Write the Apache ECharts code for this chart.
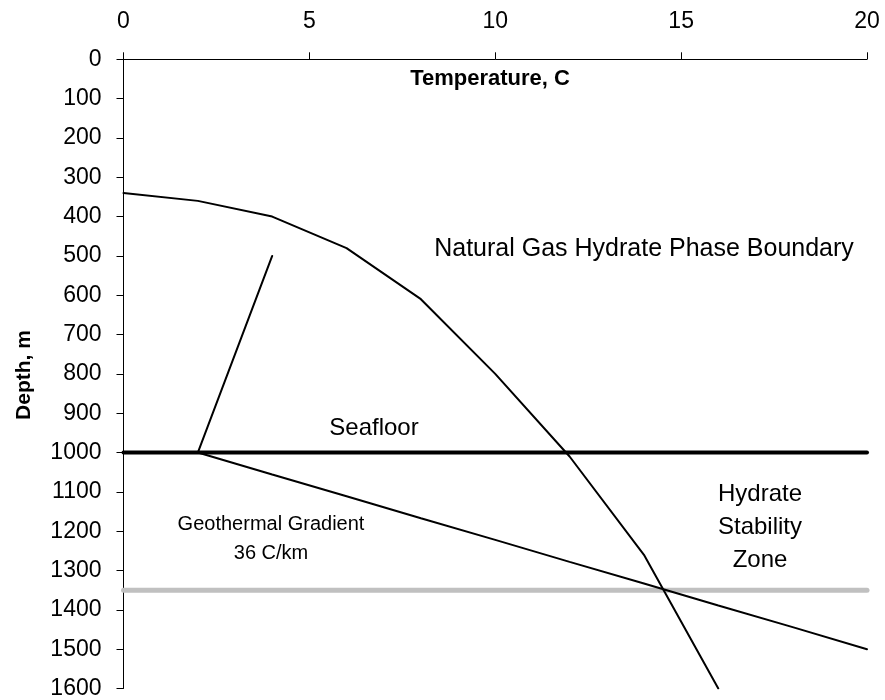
<!DOCTYPE html>
<html>
<head>
<meta charset="utf-8">
<script src="https://cdn.jsdelivr.net/npm/echarts@6/dist/echarts.min.js"></script>
<style>
  html, body { margin: 0; padding: 0; background: #fff; }
  #chart { width: 885px; height: 700px; }
</style>
</head>
<body>
<div id="chart"></div>
<script>
(function() {
  var font = '"Liberation Sans", Arial, sans-serif';

  // --- data ---
  var phaseTemp = [0, 2, 4, 6, 8, 10, 12, 14, 16];
  var phaseDepth = [340, 360, 400, 480, 610, 800, 1010, 1260, 1600];

  var gradTemp = [2, 4, 6, 8, 10, 12, 14, 16, 18, 20];
  var gradDepth = [1000, 1056, 1111, 1167, 1222, 1278, 1333, 1389, 1444, 1500];

  var waterTemp = [4, 2];
  var waterDepth = [500, 1000];

  var seafloorTemp = [0, 20];
  var seafloorDepth = [1000, 1000];

  var baseTemp = [0, 20];
  var baseDepth = [1350, 1350];

  function pairs(xs, ys) {
    return xs.map(function(x, i) { return [x, ys[i]]; });
  }

  function lineSeries(name, xs, ys, color, width) {
    return {
      name: name,
      type: 'line',
      data: pairs(xs, ys),
      symbol: 'none',
      silent: true,
      lineStyle: { color: color, width: width, cap: 'round' }
    };
  }

  var chart = echarts.init(document.getElementById('chart'), null, { renderer: 'canvas' });
  chart.setOption({
    animation: false,
    backgroundColor: '#fff',
    textStyle: { fontFamily: font },
    grid: { left: 123.5, right: 18, top: 59.3, bottom: 11 },
    xAxis: {
      type: 'value',
      position: 'top',
      min: 0,
      max: 20,
      interval: 5,
      axisLine: { onZero: false, lineStyle: { color: '#000', width: 1 } },
      axisTick: { show: true, length: 7, lineStyle: { color: '#000' } },
      splitLine: { show: false },
      axisLabel: { color: '#000', fontSize: 23, fontFamily: font, margin: 26 }
    },
    yAxis: {
      type: 'value',
      inverse: true,
      min: 0,
      max: 1600,
      interval: 100,
      axisLine: { show: true, onZero: false, lineStyle: { color: '#000', width: 1 } },
      axisTick: { show: true, length: 7, lineStyle: { color: '#000' } },
      splitLine: { show: false },
      axisLabel: {
        color: '#000', fontSize: 23, fontFamily: font, margin: 22,
        formatter: function(v) { return String(v); }
      }
    },
    graphic: [
      { type: 'text', x: 490, y: 79, style: { text: 'Temperature, C', font: 'bold 22px ' + font, fill: '#000', align: 'center', verticalAlign: 'middle' } },
      { type: 'text', x: 24, y: 375, rotation: Math.PI / 2, style: { text: 'Depth, m', font: 'bold 21px ' + font, fill: '#000', align: 'center', verticalAlign: 'middle' } },
      { type: 'text', x: 644, y: 249, style: { text: 'Natural Gas Hydrate Phase Boundary', font: '25px ' + font, fill: '#000', align: 'center', verticalAlign: 'middle' } },
      { type: 'text', x: 374, y: 428, style: { text: 'Seafloor', font: '24px ' + font, fill: '#000', align: 'center', verticalAlign: 'middle' } },
      { type: 'text', x: 271, y: 539, style: { text: 'Geothermal Gradient\n36 C/km', font: '20px ' + font, lineHeight: 29, fill: '#000', align: 'center', verticalAlign: 'middle' } },
      { type: 'text', x: 760, y: 527, style: { text: 'Hydrate\nStability\nZone', font: '24px ' + font, lineHeight: 33, fill: '#000', align: 'center', verticalAlign: 'middle' } }
    ],
    series: [
      lineSeries('Base of Stability Zone', baseTemp, baseDepth, '#c0c0c0', 5),
      lineSeries('Seafloor', seafloorTemp, seafloorDepth, '#000', 4),
      lineSeries('Water Column', waterTemp, waterDepth, '#000', 2),
      lineSeries('Geothermal Gradient', gradTemp, gradDepth, '#000', 2),
      lineSeries('Phase Boundary', phaseTemp, phaseDepth, '#000', 2)
    ]
  });
  window.addEventListener('resize', function() { chart.resize(); });
})();
</script>
</body>
</html>
